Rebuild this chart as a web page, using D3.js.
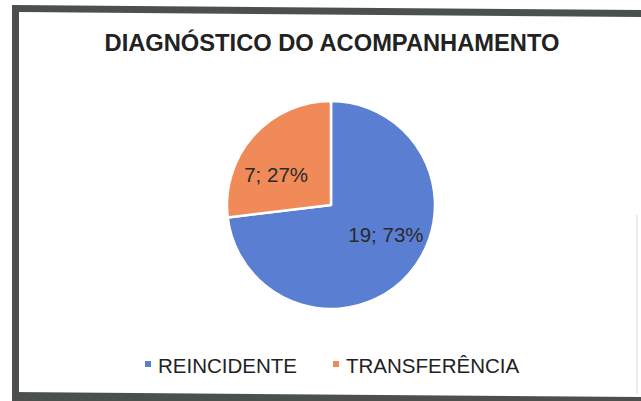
<!DOCTYPE html>
<html>
<head>
<meta charset="utf-8">
<script src="https://d3js.org/d3.v7.min.js"></script>
<style>
    body {
        margin: 0;
        background-color: white;
        font-family: "Liberation Sans", Arial, sans-serif;
    }
    svg {
        display: block;
    }
</style>
</head>
<body>
<svg></svg>
<script>
    const title = "DIAGNÓSTICO DO ACOMPANHAMENTO";
    const categories = ["REINCIDENTE", "TRANSFERÊNCIA"];
    const values = [19, 7];
    const percents = ["73%", "27%"];
    const colors = ["#5a7ed2", "#f08a58"];

    function createVis() {
        let width = 641;
        let height = 401;
        let svg = d3.select("svg")
            .attr("width", width)
            .attr("height", height);

        // scanned frame (slightly tilted, like the photo)
        let frame = "#4b504d";
        svg.append("path")
            .attr("d", "M12,5 L641,10 L641,17 L19,12 Z")
            .attr("fill", frame);
        svg.append("path")
            .attr("d", "M12,5 L19,6 L19,401 L12,401 Z")
            .attr("fill", frame);
        svg.append("path")
            .attr("d", "M12,392 L641,397 L641,401 L12,401 Z")
            .attr("fill", frame);
        svg.append("line")
            .attr("x1", 637).attr("x2", 637)
            .attr("y1", 215).attr("y2", 394)
            .attr("stroke", "#d8d8d8")
            .attr("stroke-width", 1);

        // title
        svg.append("text")
            .attr("x", 332)
            .attr("y", 51)
            .attr("text-anchor", "middle")
            .attr("font-size", 23.7)
            .attr("font-weight", "bold")
            .attr("fill", "#222")
            .text(title);

        // pie
        let cx = 331, cy = 205, r = 104;
        let data = categories.map((c, i) => ({name: c, value: values[i], pct: percents[i], color: colors[i]}));
        let pie = d3.pie().sort(null).value(d => d.value);
        let arcs = pie(data);
        let arc = d3.arc().innerRadius(0).outerRadius(r);

        let g = svg.append("g").attr("transform", `translate(${cx},${cy})`);
        g.selectAll(".slice")
            .data(arcs)
            .join("path")
            .attr("class", "slice")
            .attr("d", arc)
            .attr("fill", d => d.data.color)
            .attr("stroke", "white")
            .attr("stroke-width", 2.5)
            .attr("stroke-linejoin", "round");

        // labels sit a bit counter-clockwise of the bisector, as in the original
        let labelPos = d => {
            let a = (d.startAngle + d.endAngle) / 2 - 0.23;
            let lr = r * 0.6;
            return [lr * Math.sin(a), -lr * Math.cos(a)];
        };
        g.selectAll(".label")
            .data(arcs)
            .join("text")
            .attr("class", "label")
            .attr("x", d => labelPos(d)[0])
            .attr("y", d => labelPos(d)[1] + 7)
            .attr("text-anchor", "middle")
            .attr("font-size", 20.5)
            .attr("fill", "#2a2a2a")
            .text(d => `${d.data.value}; ${d.data.pct}`);

        // legend
        let legendX = [145, 333];
        let legend = svg.selectAll(".legend")
            .data(data)
            .join("g")
            .attr("class", "legend")
            .attr("transform", (d, i) => `translate(${legendX[i]},373)`);
        legend.append("rect")
            .attr("x", 0)
            .attr("y", -12)
            .attr("width", 6)
            .attr("height", 6)
            .attr("fill", d => d.color);
        legend.append("text")
            .attr("x", 13)
            .attr("y", 0)
            .attr("font-size", 20.5)
            .attr("fill", "#222")
            .text(d => d.name);
    }
    createVis();
</script>
</body>
</html>
